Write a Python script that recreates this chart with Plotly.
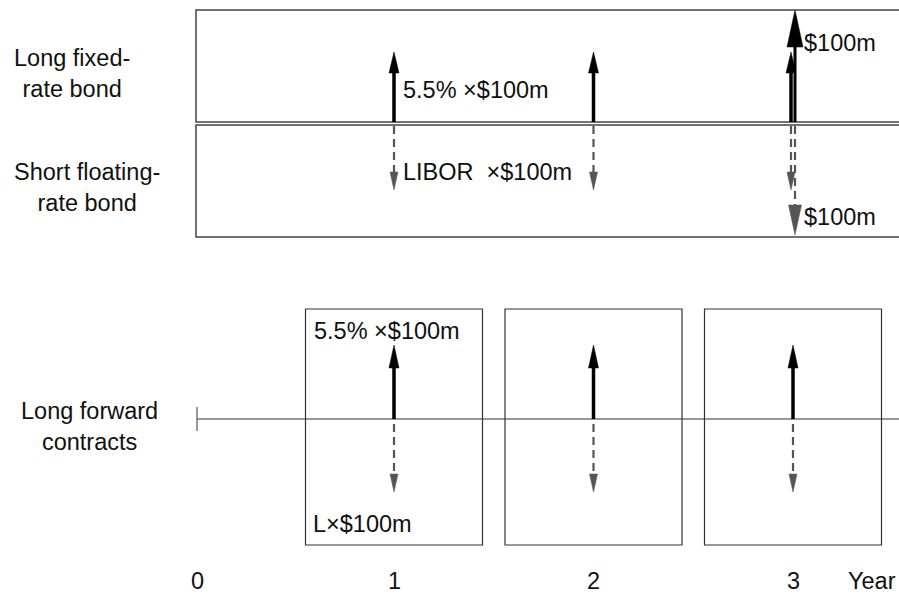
import plotly.graph_objects as go

# ---------------- data ----------------
years = [1, 2, 3]                      # payment dates
maturity = 3                           # principal exchanged at maturity
axis_ticks = [0, 1, 2, 3]
axis_tick_labels = ["0", "1", "2", "3"]
axis_title = "Year"
row_labels = ["Long fixed-<br>rate bond", "Short floating-<br>rate bond", "Long forward<br>contracts"]
fixed_label = "5.5% ×$100m"
floating_label = "LIBOR\u00a0 ×$100m"
principal_label = "$100m"
fwd_fixed_label = "5.5% ×$100m"
fwd_float_label = "L×$100m"

# ---------------- style / layout ----------------
W, H = 899, 595
X0_PX, PX_PER_YEAR = 194.5, 199.5
FONT = dict(family="Liberation Sans, Arial, Helvetica, sans-serif", size=23.5, color="#111111")
BLACK = "#000000"
GRAY = "#555555"
BOX = "#444444"


def px(dpx):
    """convert a pixel offset into year units"""
    return dpx / PX_PER_YEAR


def xpos(p):
    """pixel position -> year coordinate (layout placement only)"""
    return (p - X0_PX) / PX_PER_YEAR


x_min, x_max = xpos(0), xpos(W)

fig = go.Figure()
shapes = []
annotations = []


def head(xc, tip, base, hw, color):
    fig.add_trace(go.Scatter(
        x=[xc - px(hw), xc, xc + px(hw), xc - px(hw)],
        y=[base, tip, base, base],
        mode="lines", fill="toself", fillcolor=color,
        line=dict(color=color, width=0.5), hoverinfo="skip", showlegend=False))


def stem(xc, y0, y1, color, width, dash=None):
    shapes.append(dict(type="line", xref="x", yref="y", x0=xc, x1=xc, y0=y0, y1=y1,
                       line=dict(color=color, width=width, dash=dash)))


def text(x, y, s, anchor="left", align="left"):
    annotations.append(dict(x=x, y=y, xref="x", yref="y", text=s, showarrow=False,
                            xanchor=anchor, yanchor="middle", align=align, font=FONT))


# --- bond panels ---
TOP0, TOP1 = 10, 122
BOT0, BOT1 = 125, 237
shapes.append(dict(type="rect", xref="x", yref="y", x0=px(1.5), x1=x_max + 0.2, y0=TOP0, y1=TOP1,
                   line=dict(color=BOX, width=1.5)))
shapes.append(dict(type="rect", xref="x", yref="y", x0=px(1.5), x1=x_max + 0.2, y0=BOT0, y1=BOT1,
                   line=dict(color=BOX, width=1.5)))

for yr in years:
    off = px(-2) if yr == maturity else 0
    xc = yr + off
    # fixed coupon received
    stem(xc, TOP1, 70, BLACK, 3.5)
    head(xc, 52, 73, 5, BLACK)
    # floating coupon paid
    stem(xc, BOT0 + 1, 175, GRAY, 2.2, "8px,5px")
    head(xc, 190, 172, 4, GRAY)

# principal at maturity
xm = maturity + px(2)
stem(xm, TOP1, 40, BLACK, 3)
head(xm, TOP0, 47, 8, BLACK)
stem(xm, BOT0 + 1, 210, GRAY, 2.2, "8px,5px")
head(xm, 235, 205, 6.5, GRAY)

text(years[0] + px(7), 90, fixed_label)
text(years[0] + px(7), 172, floating_label)
text(maturity + px(9), 43, principal_label)
text(maturity + px(9), 217, principal_label)

# --- forward contracts panel ---
LINE_Y = 419
FB0, FB1 = 309, 545
BOX_HALF = px(88.5)
shapes.append(dict(type="line", xref="x", yref="y", x0=axis_ticks[0] + px(2.5), x1=x_max + 0.2,
                   y0=LINE_Y, y1=LINE_Y, line=dict(color="#333333", width=1.2)))
shapes.append(dict(type="line", xref="x", yref="y", x0=axis_ticks[0] + px(2.5), x1=axis_ticks[0] + px(2.5),
                   y0=407, y1=431, line=dict(color="#555555", width=1.2)))
for yr in years:
    shapes.append(dict(type="rect", xref="x", yref="y", x0=yr - BOX_HALF, x1=yr + BOX_HALF,
                       y0=FB0, y1=FB1, line=dict(color="#333333", width=1.2)))
    stem(yr, LINE_Y, 362, BLACK, 3.5)
    head(yr, 345, 368, 5, BLACK)
    stem(yr, LINE_Y + 5, 478, GRAY, 2.2, "8px,5px")
    head(yr, 492, 474, 4, GRAY)

text(years[0] - BOX_HALF + px(6), 331, fwd_fixed_label)
text(years[0] - BOX_HALF + px(5), 524, fwd_float_label)

# --- row labels ---
text(xpos(72), 73, row_labels[0], anchor="center", align="center")
text(xpos(87), 187, row_labels[1], anchor="center", align="center")
text(xpos(89), 426, row_labels[2], anchor="center", align="center")

# --- time axis labels ---
for t, lab in zip(axis_ticks, axis_tick_labels):
    text(t + (px(2.5) if t == 0 else 0), 581, lab, anchor="center", align="center")
text(xpos(846), 581, axis_title)

fig.update_layout(
    width=W, height=H, margin=dict(l=0, r=0, t=0, b=0),
    paper_bgcolor="white", plot_bgcolor="white",
    xaxis=dict(range=[x_min, x_max], visible=False, fixedrange=True),
    yaxis=dict(range=[H, 0], visible=False, fixedrange=True),
    shapes=shapes, annotations=annotations, showlegend=False,
)
fig.write_html("out.html", config={"displayModeBar": False},
               post_script="document.body.style.margin='0';document.body.style.overflow='hidden';")
